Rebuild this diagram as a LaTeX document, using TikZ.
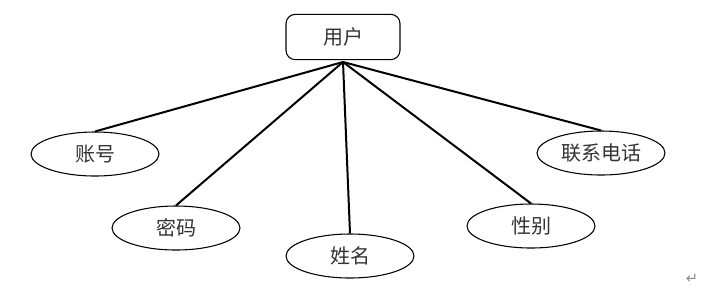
\documentclass[tikz,border=0pt]{standalone}
\usepackage{fontspec}
\newfontfamily\cjk{Noto Sans CJK SC}
\newfontfamily\dejavu{DejaVu Sans}
\usetikzlibrary{shapes.geometric}
\begin{document}
\begin{tikzpicture}[x=0.75pt,y=-0.75pt,
  ent/.style={draw=black,line width=0.8pt,rounded corners=7pt,minimum width=85.5pt,minimum height=34pt,font=\cjk\fontsize{15}{18}\selectfont,text=black!80},
  attr/.style={draw=black,ellipse,line width=0.8pt,minimum width=96pt,minimum height=33pt,inner sep=0pt,font=\cjk\fontsize{15}{18}\selectfont,text=black!80},
  link/.style={draw=black,line width=1.5pt}]
\useasboundingbox (0,0) rectangle (723,294);
\node[ent] (u) at (343,37) {用户};
\node[attr] (a1) at (95,154) {账号};
\node[attr] (a2) at (176,228) {密码};
\node[attr] (a3) at (350,256) {姓名};
\node[attr] (a4) at (531,226) {性别};
\node[attr] (a5) at (601,153) {联系电话};
\coordinate (o) at (343,62);
\draw[link] (o) -- (a1.north);
\draw[link] (o) -- (a2.north);
\draw[link] (o) -- (a3.north);
\draw[link] (o) -- (a4.north);
\draw[link] (o) -- (a5.north);
\node[font=\dejavu\fontsize{11}{12}\selectfont,text=black!45] (pm) at (692,279) {↵};
\end{tikzpicture}
\end{document}
